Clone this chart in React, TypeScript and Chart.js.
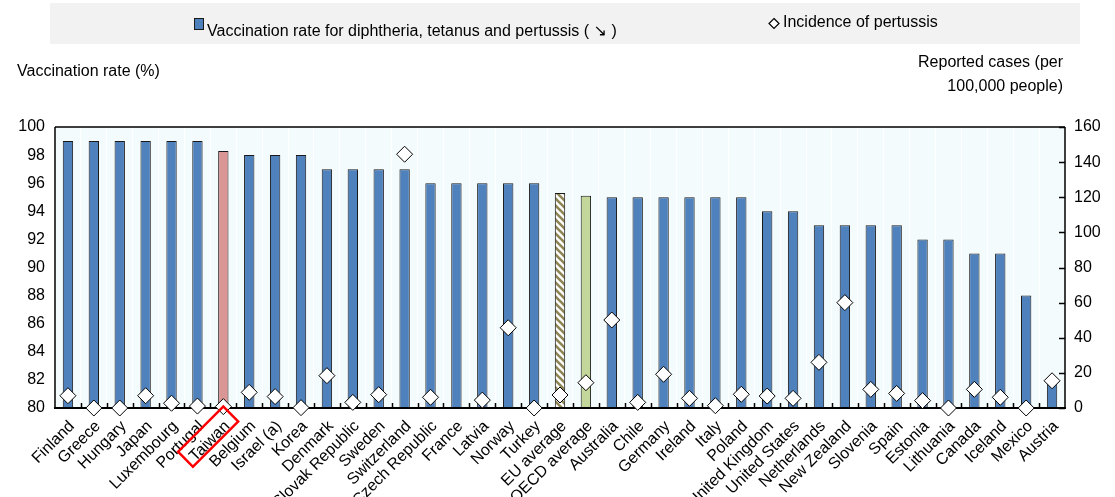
import { useEffect, useRef } from 'react';
import { Chart, registerables } from 'chart.js';

Chart.register(...registerables);

const categories = [
  'Finland', 'Greece', 'Hungary', 'Japan', 'Luxembourg', 'Portugal', 'Taiwan', 'Belgium', 'Israel (a)', 'Korea',
  'Denmark', 'Slovak Republic', 'Sweden', 'Switzerland', 'Czech Republic', 'France', 'Latvia', 'Norway', 'Turkey',
  'EU average', 'OECD average', 'Australia', 'Chile', 'Germany', 'Ireland', 'Italy', 'Poland', 'United Kingdom',
  'United States', 'Netherlands', 'New Zealand', 'Slovenia', 'Spain', 'Estonia', 'Lithuania', 'Canada', 'Iceland',
  'Mexico', 'Austria',
];

const vaccinationRate = [
  99, 99, 99, 99, 99, 99, 98.3, 98, 98, 98,
  97, 97, 97, 97, 96, 96, 96, 96, 96,
  95.3, 95.1, 95, 95, 95, 95, 95, 95, 94,
  94, 93, 93, 93, 93, 92, 92, 91, 91,
  88, 81.8,
];

const pertussisIncidence: (number | null)[] = [
  7, 0, 0, 7, 2.7, 1.1, 0.8, 8.9, 6.5, 0.2,
  18.4, 3.2, 7.6, 144.5, 6.1, null, 4.5, 45.7, 0,
  7.4, 14.4, 50.1, 3.2, 19.2, 5.5, 1.3, 7.8, 6.8,
  5.5, 26, 60, 10.6, 8.3, 4.2, 0, 10.6, 6.1,
  0, 15.5,
];

const leftTicks = [80, 82, 84, 86, 88, 90, 92, 94, 96, 98, 100];
const rightTicks = [0, 20, 40, 60, 80, 100, 120, 140, 160];

const legendLabels = ['Vaccination rate for diphtheria, tetanus and pertussis ( \u2198 )', 'Incidence of pertussis'];
const leftTitle = 'Vaccination rate (%)';
const rightTitle = ['Reported cases (per', '100,000 people)'];
const highlighted = 'Taiwan';

const FONT = "'Liberation Sans', Arial, 'DejaVu Sans', sans-serif";

function makeHatch(): CanvasPattern | string {
  const c = document.createElement('canvas');
  c.width = 7;
  c.height = 7;
  const g = c.getContext('2d');
  if (!g) return '#948a54';
  g.fillStyle = '#ffffff';
  g.fillRect(0, 0, 7, 7);
  g.strokeStyle = '#8f8656';
  g.lineWidth = 2.6;
  g.beginPath();
  g.moveTo(-1, -1); g.lineTo(8, 8);
  g.moveTo(-4.5, 2.5); g.lineTo(4.5, 11.5);
  g.moveTo(2.5, -4.5); g.lineTo(11.5, 4.5);
  g.stroke();
  const p = g.createPattern(c, 'repeat');
  return p || '#948a54';
}

export default function App() {
  const ref = useRef<HTMLCanvasElement | null>(null);

  useEffect(() => {
    document.body.style.margin = '0';
    const canvas = ref.current;
    if (!canvas) return;
    const hatch = makeHatch();
    const barColors = categories.map((c) =>
      c === 'Taiwan' ? '#d99694' : c === 'EU average' ? hatch : c === 'OECD average' ? '#c4d79b' : '#4f81bd'
    );

    const framePlugin = {
      id: 'framePlugin',
      beforeDraw(chart: any) {
        const { ctx, chartArea: a } = chart;
        ctx.save();
        ctx.fillStyle = '#f2f2f2';
        ctx.fillRect(50, 3, 1030, 41);
        ctx.fillStyle = '#f4fbfd';
        ctx.fillRect(a.left, a.top, a.right - a.left, a.bottom - a.top);
        ctx.restore();
      },
      afterDatasetDraw(chart: any, args: any) {
        if (args.index !== 0) return;
        const { ctx, chartArea: a } = chart;
        ctx.save();
        ctx.strokeStyle = '#000';
        ctx.lineWidth = 1.5;
        ctx.beginPath();
        ctx.moveTo(a.left, a.top);
        ctx.lineTo(a.right, a.top);
        ctx.moveTo(a.left, a.top);
        ctx.lineTo(a.left, a.bottom);
        ctx.moveTo(a.right, a.top);
        ctx.lineTo(a.right, a.bottom);
        ctx.stroke();
        ctx.lineWidth = 2;
        ctx.beginPath();
        ctx.moveTo(a.left - 1, a.bottom);
        ctx.lineTo(a.right + 1, a.bottom);
        ctx.stroke();
        ctx.lineWidth = 1.5;
        const n = categories.length;
        const w = (a.right - a.left) / n;
        ctx.beginPath();
        for (let i = 1; i < n; i++) {
          const x = Math.round(a.left + i * w) + 0.5;
          ctx.moveTo(x, a.bottom);
          ctx.lineTo(x, a.bottom - 5);
        }
        ctx.stroke();
        const y1 = chart.scales.y1;
        ctx.beginPath();
        rightTicks.forEach((v) => {
          const y = Math.round(y1.getPixelForValue(v)) + 0.5;
          ctx.moveTo(a.right, y);
          ctx.lineTo(a.right - 6, y);
        });
        ctx.stroke();
        ctx.restore();
      },
      afterDraw(chart: any) {
        const { ctx } = chart;
        ctx.save();
        ctx.fillStyle = '#000';
        ctx.font = `16px ${FONT}`;
        ctx.textBaseline = 'middle';
        ctx.fillStyle = '#4f81bd';
        ctx.fillRect(194, 18, 9, 11);
        ctx.strokeStyle = '#1a1a1a';
        ctx.lineWidth = 1;
        ctx.strokeRect(194.5, 18.5, 9, 11);
        ctx.fillStyle = '#000';
        ctx.textAlign = 'left';
        ctx.fillText(legendLabels[0], 207, 32);
        ctx.beginPath();
        ctx.moveTo(774, 18.5);
        ctx.lineTo(779, 23.5);
        ctx.lineTo(774, 28.5);
        ctx.lineTo(769, 23.5);
        ctx.closePath();
        ctx.fillStyle = '#fff';
        ctx.fill();
        ctx.strokeStyle = '#000';
        ctx.lineWidth = 1.2;
        ctx.stroke();
        ctx.fillStyle = '#000';
        ctx.fillText(legendLabels[1], 783, 23);
        ctx.fillText(leftTitle, 17, 72);
        ctx.textAlign = 'right';
        ctx.fillText(rightTitle[0], 1063, 63);
        ctx.fillText(rightTitle[1], 1063, 87);
        const xs = chart.scales.x;
        const idx = categories.indexOf(highlighted);
        const tx = xs.getPixelForValue(idx);
        ctx.translate(tx, chart.chartArea.bottom);
        ctx.rotate(-Math.PI / 4);
        ctx.strokeStyle = '#ff0000';
        ctx.lineWidth = 2.5;
        ctx.strokeRect(-63, -1, 64, 21);
        ctx.restore();
      },
    };

    const tickFont = { family: FONT, size: 16 };

    const chart = new Chart(canvas, {
      type: 'bar',
      data: {
        labels: categories,
        datasets: [
          {
            type: 'bar',
            label: legendLabels[0],
            data: vaccinationRate,
            backgroundColor: barColors as any,
            borderColor: '#1a1a1a',
            borderWidth: 1,
            barPercentage: 0.8,
            categoryPercentage: 0.5,
            yAxisID: 'y',
            order: 1,
          },
          {
            type: 'line',
            label: legendLabels[1],
            data: pertussisIncidence,
            showLine: false,
            pointStyle: 'rectRot',
            pointRadius: 8,
            pointBackgroundColor: '#ffffff',
            pointBorderColor: '#000000',
            pointBorderWidth: 1,
            yAxisID: 'y1',
            clip: false as any,
            order: 0,
          } as any,
        ],
      },
      options: {
        responsive: false,
        animation: false,
        devicePixelRatio: 1,
        layout: { padding: { top: 127, left: 0, right: 0, bottom: 0 } },
        plugins: { legend: { display: false }, tooltip: { enabled: false } },
        events: [],
        scales: {
          x: {
            offset: true,
            grid: { display: true, color: '#ffffff', lineWidth: 1, drawTicks: false, offset: true },
            border: { display: false },
            ticks: {
              autoSkip: false,
              maxRotation: 45,
              minRotation: 45,
              font: tickFont,
              color: '#000',
              padding: 9,
              labelOffset: 4,
            },
            afterFit: (s: any) => {
              s.height = 89;
            },
          },
          y: {
            position: 'left',
            min: 80,
            max: 100,
            afterBuildTicks: (s: any) => {
              s.ticks = leftTicks.map((v) => ({ value: v }));
            },
            ticks: { font: tickFont, color: '#000', padding: 10 },
            grid: { display: false, drawTicks: false },
            border: { display: false },
            afterFit: (s: any) => {
              s.width = 55;
            },
          },
          y1: {
            position: 'right',
            min: 0,
            max: 160,
            afterBuildTicks: (s: any) => {
              s.ticks = rightTicks.map((v) => ({ value: v }));
            },
            ticks: { font: tickFont, color: '#000', padding: 9 },
            grid: { display: false, drawTicks: false },
            border: { display: false },
            afterFit: (s: any) => {
              s.width = 50;
            },
          },
        },
      },
      plugins: [framePlugin],
    });

    return () => chart.destroy();
  }, []);

  return (
    <div style={{ width: 1115, height: 497 }}>
      <canvas ref={ref} width={1115} height={497} style={{ display: 'block', width: 1115, height: 497 }} />
    </div>
  );
}
